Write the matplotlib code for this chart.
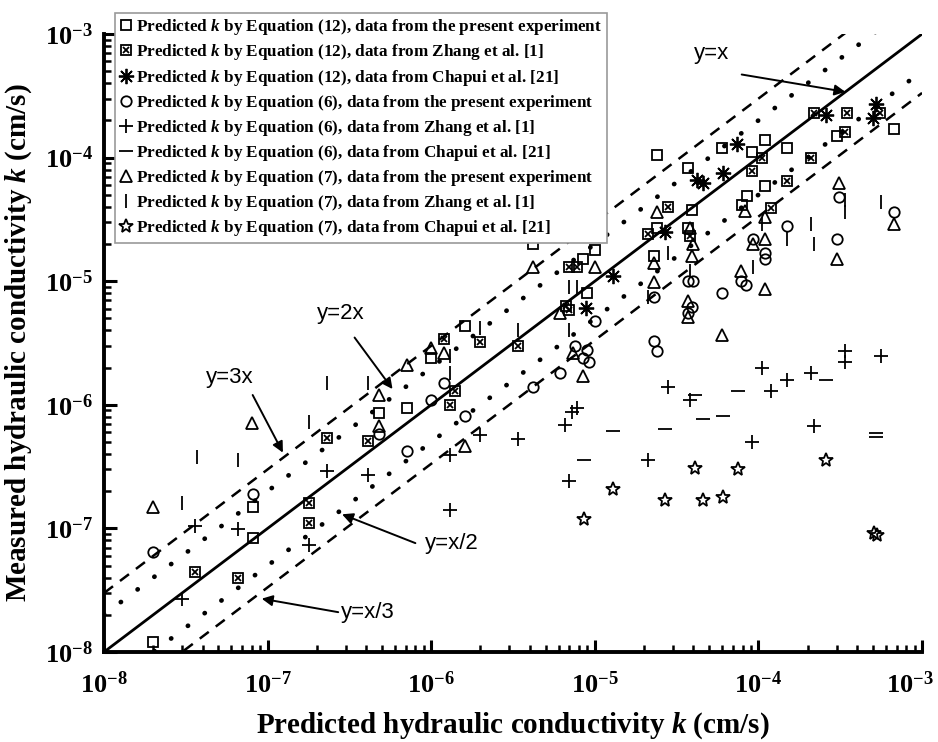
import numpy as np
import matplotlib
matplotlib.use("Agg")
import matplotlib.pyplot as plt
from matplotlib.ticker import LogLocator, NullFormatter, FixedLocator
from matplotlib.transforms import ScaledTranslation

plt.rcParams.update({
    "font.family": "Liberation Serif",
    "font.weight": "bold",
    "axes.labelweight": "bold",
    "mathtext.fontset": "custom",
    "mathtext.rm": "Liberation Serif:bold",
    "mathtext.bf": "Liberation Serif:bold",
    "mathtext.it": "Liberation Serif:italic:bold",
})

# Eq (12), present experiment (open squares)
sq_pred = [2.0e-8, 8.1e-8, 8.1e-8, 4.8e-7, 7.1e-7, 1.0e-6, 1.6e-6, 4.2e-6, 8.5e-6, 1.0e-5,
           9.0e-6, 2.3e-5, 2.4e-5, 2.4e-5, 3.7e-5, 3.7e-5, 3.9e-5, 6.0e-5, 9.1e-5, 1.1e-4,
           1.5e-4, 1.1e-4, 8.5e-5, 7.9e-5, 3.0e-4, 6.7e-4]
sq_meas = [1.2e-8, 8.4e-8, 1.5e-7, 8.6e-7, 9.4e-7, 2.4e-6, 4.3e-6, 2.0e-5, 1.5e-5, 1.8e-5,
           8.0e-6, 1.6e-5, 2.7e-5, 1.05e-4, 8.2e-5, 2.7e-5, 3.8e-5, 1.2e-4, 1.1e-4, 1.4e-4,
           1.2e-4, 5.9e-5, 4.9e-5, 4.1e-5, 1.5e-4, 1.7e-4]

# Eq (12), Zhang et al. (boxed x)
bx_pred = [3.6e-8, 6.6e-8, 1.8e-7, 1.8e-7, 2.3e-7, 4.1e-7, 1.4e-6, 1.3e-6, 2.0e-6, 1.2e-6,
           3.4e-6, 6.7e-6, 7.0e-6, 7.0e-6, 7.8e-6, 2.8e-5, 2.1e-5, 3.8e-5, 9.1e-5, 1.05e-4,
           1.2e-4, 1.5e-4, 2.1e-4, 2.2e-4, 3.5e-4, 3.4e-4, 5.5e-4]
bx_meas = [4.4e-8, 4.0e-8, 1.6e-7, 1.1e-7, 5.4e-7, 5.1e-7, 1.3e-6, 1.0e-6, 3.2e-6, 3.4e-6,
           3.0e-6, 6.3e-6, 5.8e-6, 1.3e-5, 1.3e-5, 4.0e-5, 2.4e-5, 2.3e-5, 7.8e-5, 1.0e-4,
           3.9e-5, 6.5e-5, 1.0e-4, 2.3e-4, 2.3e-4, 1.6e-4, 2.3e-4]

# Eq (12), Chapui et al. (asterisks)
ast_pred = [8.8e-6, 1.3e-5, 2.7e-5, 4.2e-5, 4.6e-5, 6.1e-5, 7.4e-5, 2.6e-4, 5.2e-4, 5.0e-4]
ast_meas = [6.1e-6, 1.1e-5, 2.5e-5, 6.6e-5, 6.2e-5, 7.5e-5, 1.3e-4, 2.2e-4, 2.7e-4, 2.1e-4]

# Eq (6), present experiment (open circles)
ci_pred = [2.0e-8, 8.1e-8, 4.8e-7, 1.0e-6, 1.2e-6, 1.6e-6, 7.1e-7, 4.2e-6, 6.1e-6, 7.6e-6,
           9.0e-6, 9.2e-6, 1.0e-5, 2.3e-5, 2.3e-5, 2.4e-5, 3.7e-5, 4.0e-5, 3.9e-5, 3.7e-5,
           6.0e-5, 7.8e-5, 8.4e-5, 9.3e-5, 1.5e-4, 1.1e-4, 1.1e-4, 3.1e-4, 3.0e-4, 6.7e-4,
           8.5e-6]
ci_meas = [6.4e-8, 1.9e-7, 5.8e-7, 1.1e-6, 1.5e-6, 8.1e-7, 4.2e-7, 1.4e-6, 1.8e-6, 3.0e-6,
           2.8e-6, 2.2e-6, 4.8e-6, 7.5e-6, 3.3e-6, 2.7e-6, 1.0e-5, 1.0e-5, 6.2e-6, 5.5e-6,
           8.0e-6, 1.0e-5, 9.3e-6, 2.2e-5, 2.8e-5, 1.7e-5, 1.5e-5, 4.8e-5, 2.2e-5, 3.6e-5,
           2.4e-6]

# Eq (6), Zhang et al. (plus)
pl_pred = [3.0e-8, 3.6e-8, 6.6e-8, 1.8e-7, 2.3e-7, 4.1e-7, 1.3e-6, 2.0e-6, 1.3e-6, 3.4e-6,
           6.6e-6, 7.3e-6, 7.8e-6, 7.0e-6, 2.1e-5, 2.8e-5, 3.8e-5, 9.1e-5, 1.05e-4, 1.2e-4,
           1.5e-4, 2.1e-4, 2.2e-4, 3.4e-4, 3.4e-4, 5.6e-4]
pl_meas = [2.7e-8, 1.05e-7, 9.9e-8, 7.3e-8, 2.9e-7, 2.7e-7, 3.9e-7, 5.7e-7, 1.4e-7, 5.3e-7,
           6.9e-7, 8.7e-7, 9.4e-7, 2.4e-7, 3.6e-7, 1.4e-6, 1.1e-6, 5.0e-7, 2.0e-6, 1.3e-6,
           1.6e-6, 1.8e-6, 6.7e-7, 2.7e-6, 2.2e-6, 2.5e-6]

# Eq (6), Chapui et al. (minus)
mi_pred = [1.3e-5, 2.7e-5, 8.6e-6, 4.1e-5, 4.6e-5, 6.1e-5, 7.5e-5, 2.6e-4, 5.2e-4, 5.2e-4]
mi_meas = [6.1e-7, 6.4e-7, 3.6e-7, 1.2e-6, 7.7e-7, 8.1e-7, 1.3e-6, 1.6e-6, 5.9e-7, 5.5e-7]

# Eq (7), present experiment (open triangles)
tr_pred = [2.0e-8, 8.0e-8, 4.8e-7, 4.8e-7, 7.1e-7, 1.0e-6, 1.2e-6, 1.6e-6, 4.2e-6, 6.1e-6,
           1.0e-5, 7.4e-6, 8.5e-6, 2.4e-5, 2.3e-5, 2.3e-5, 3.8e-5, 4.0e-5, 3.9e-5, 3.7e-5,
           3.7e-5, 6.0e-5, 8.3e-5, 1.1e-4, 1.1e-4, 9.3e-5, 7.8e-5, 1.1e-4, 3.1e-4, 3.0e-4,
           6.7e-4]
tr_meas = [1.5e-7, 7.1e-7, 1.2e-6, 6.7e-7, 2.1e-6, 2.9e-6, 2.6e-6, 4.6e-7, 1.3e-5, 5.5e-6,
           1.3e-5, 2.6e-6, 1.7e-6, 3.6e-5, 9.9e-6, 1.4e-5, 2.7e-5, 2.0e-5, 1.6e-5, 6.9e-6,
           5.1e-6, 3.7e-6, 3.7e-5, 3.3e-5, 2.2e-5, 2.0e-5, 1.2e-5, 8.6e-6, 6.2e-5, 1.5e-5,
           2.9e-5]

# Eq (7), Zhang et al. (vertical bars)
vb_pred = [3.0e-8, 3.7e-8, 6.6e-8, 1.8e-7, 2.3e-7, 4.1e-7, 1.3e-6, 1.3e-6, 2.0e-6, 3.4e-6,
           7.0e-6, 7.8e-6, 7.0e-6, 2.8e-5, 2.1e-5, 3.8e-5, 9.3e-5, 1.05e-4, 1.5e-4, 2.1e-4,
           2.2e-4, 3.4e-4, 3.4e-4, 5.6e-4]
vb_meas = [1.6e-7, 3.8e-7, 3.6e-7, 7.3e-7, 1.5e-6, 1.5e-6, 2.5e-6, 1.8e-6, 4.2e-6, 4.0e-6,
           9.0e-6, 9.0e-6, 4.0e-6, 1.7e-5, 7.5e-6, 1.2e-5, 1.3e-5, 2.9e-5, 2.2e-5, 2.9e-5,
           2.0e-5, 4.5e-5, 3.6e-5, 4.4e-5]

# Eq (7), Chapui et al. (open stars)
st_pred = [8.6e-6, 1.3e-5, 2.7e-5, 4.1e-5, 4.6e-5, 6.1e-5, 7.5e-5, 2.6e-4, 5.1e-4, 5.3e-4]
st_meas = [1.2e-7, 2.1e-7, 1.7e-7, 3.1e-7, 1.7e-7, 1.8e-7, 3.0e-7, 3.6e-7, 9.2e-8, 8.8e-8]

labels = [
    r"Predicted $k$ by Equation (12), data from the present experiment",
    r"Predicted $k$ by Equation (12), data from Zhang et al. [1]",
    r"Predicted $k$ by Equation (12), data from Chapui et al. [21]",
    r"Predicted $k$ by Equation (6), data from the present experiment",
    r"Predicted $k$ by Equation (6), data from Zhang et al. [1]",
    r"Predicted $k$ by Equation (6), data from Chapui et al. [21]",
    r"Predicted $k$ by Equation (7), data from the present experiment",
    r"Predicted $k$ by Equation (7), data from Zhang et al. [1]",
    r"Predicted $k$ by Equation (7), data from Chapui et al. [21]",
]

fig = plt.figure(figsize=(9.38, 7.42), dpi=100)
ax = fig.add_axes([0.1109, 0.1213, 0.8721, 0.8329])
ax.set_xscale("log")
ax.set_yscale("log")
ax.set_xlim(1e-8, 1e-3)
ax.set_ylim(1e-8, 1e-3)

# reference lines
xs = np.array([1e-8, 1e-3])
ax.plot(xs, xs, color="k", lw=2)
ax.plot(xs, 2 * xs, color="k", lw=3.4, ls=(0, (0.05, 4.4)), dash_capstyle="round")
ax.plot(xs, xs / 2, color="k", lw=3.4, ls=(0, (0.05, 4.4)), dash_capstyle="round")
ax.plot(xs, 3 * xs, color="k", lw=1.8, ls=(0, (4.5, 3.5)))
ax.plot(xs, xs / 3, color="k", lw=1.8, ls=(0, (4.5, 3.5)))

kw = dict(ls="none", color="k", mfc="none", mew=1.3, clip_on=False, zorder=4)
h1, = ax.plot(sq_pred, sq_meas, marker="s", ms=7, **kw)
h2a, = ax.plot(bx_pred, bx_meas, marker="s", ms=7, **kw)
h2b, = ax.plot(bx_pred, bx_meas, marker="x", ms=5, **kw)
h3, = ax.plot(ast_pred, ast_meas, marker=(8, 2, 0), ms=11, **kw)
h4, = ax.plot(ci_pred, ci_meas, marker="o", ms=7.5, **kw)
h5, = ax.plot(pl_pred, pl_meas, marker="+", ms=10, **kw)
h6, = ax.plot(mi_pred, mi_meas, marker="_", ms=10, **kw)
h7, = ax.plot(tr_pred, tr_meas, marker="^", ms=8, **kw)
h8, = ax.plot(vb_pred, vb_meas, marker="|", ms=10, **kw)
h9, = ax.plot(st_pred, st_meas, marker="*", ms=10, **kw)

# annotations
akw = dict(arrowprops=dict(arrowstyle="-|>", color="k", lw=1.4, mutation_scale=16,
                           shrinkA=0, shrinkB=0))
tkw = dict(fontsize=16, family="Liberation Sans", fontweight="normal", ha="center", va="center")
ax.annotate("", xy=(3.4e-4, 3.4e-4), xytext=(7.9e-5, 4.7e-4), **akw)
ax.text(5.2e-5, 7.0e-4, "y=x", **tkw)
ax.annotate("", xy=(5.8e-7, 1.34e-6), xytext=(3.4e-7, 3.5e-6), **akw)
ax.text(2.8e-7, 5.5e-6, "y=2x", **tkw)
ax.annotate("", xy=(1.24e-7, 4.1e-7), xytext=(8.1e-8, 1.2e-6), **akw)
ax.text(5.9e-8, 1.65e-6, "y=3x", **tkw)
ax.annotate("", xy=(2.85e-7, 1.3e-7), xytext=(8.0e-7, 7.6e-8), **akw)
ax.text(1.34e-6, 7.5e-8, "y=x/2", **tkw)
ax.annotate("", xy=(9.2e-8, 2.7e-8), xytext=(2.7e-7, 2.1e-8), **akw)
ax.text(4.1e-7, 2.1e-8, "y=x/3", **tkw)

# axes styling
for s in ["top", "right"]:
    ax.spines[s].set_visible(False)
for s in ["left", "bottom"]:
    ax.spines[s].set_linewidth(2.8)
decades = [1e-8, 1e-7, 1e-6, 1e-5, 1e-4, 1e-3]
ax.xaxis.set_major_locator(FixedLocator(decades))
ax.yaxis.set_major_locator(FixedLocator(decades))
ax.xaxis.set_minor_locator(LogLocator(base=10, subs=np.arange(2, 10)))
ax.yaxis.set_minor_locator(LogLocator(base=10, subs=np.arange(2, 10)))
ax.xaxis.set_minor_formatter(NullFormatter())
ax.yaxis.set_minor_formatter(NullFormatter())
ax.tick_params(which="major", direction="in", length=9, width=2.2, labelsize=19)
ax.tick_params(axis="x", which="major", pad=14)
ax.tick_params(axis="y", which="major", pad=8)
ax.tick_params(which="minor", direction="in", length=5, width=1.8)

ax.set_xlabel(r"Predicted hydraulic conductivity $k$ (cm/s)", fontsize=21, labelpad=9)
ax.set_ylabel(r"Measured hydraulic conductivity $k$ (cm/s)", fontsize=21, labelpad=8)

handles = [h1, (h2a, h2b), h3, h4, h5, h6, h7, h8, h9]
leg = ax.legend(handles, labels, loc="upper left",
                bbox_to_anchor=(115 / 938, 1 - 13 / 742), bbox_transform=fig.transFigure,
                fontsize=12.3, frameon=True, fancybox=False, framealpha=1,
                edgecolor="#9a9a9a", borderpad=0.25, labelspacing=0.3,
                handlelength=0.8, handletextpad=0.2, borderaxespad=0)
leg.get_frame().set_linewidth(1.2)
leg.set_zorder(10)

# keep the last x tick label inside the picture
fig.canvas.draw()
last = ax.xaxis.get_major_ticks()[-1].label1
last.set_transform(last.get_transform() + ScaledTranslation(-0.12, 0, fig.dpi_scale_trans))

fig.savefig("out.png", dpi=100)
